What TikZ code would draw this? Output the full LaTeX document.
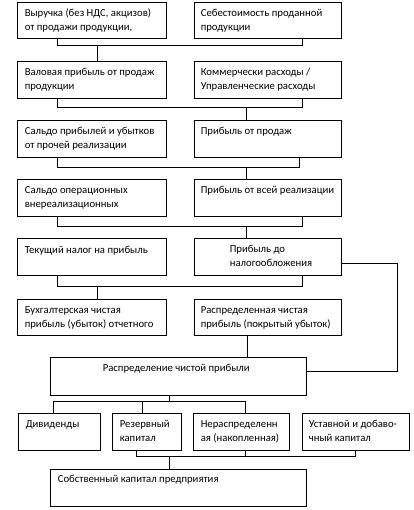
\documentclass[tikz,border=0pt]{standalone}
\usepackage{fontspec}
\setmainfont{Carlito}
\usetikzlibrary{fit}
\tikzset{
  box/.style={draw=black, line width=0.8pt, inner sep=0pt, fill=white},
  txt/.style={anchor=north west, inner sep=0pt, align=left, font=\fontsize{10.7}{14.3}\selectfont},
  conn/.style={draw=black, line width=0.8pt}
}
\begin{document}
\begin{tikzpicture}[x=1pt,y=-1pt]
\useasboundingbox (0,0) rectangle (413,510);
% boxes
\node[box, fit={(17,2) (166,38)}] (r1l) {};
\node[box, fit={(194,2) (341,38)}] (r1r) {};
\node[box, fit={(17,61) (166,98)}] (r2l) {};
\node[box, fit={(194,61) (341,98)}] (r2r) {};
\node[box, fit={(17,120) (166,157)}] (r3l) {};
\node[box, fit={(194,120) (341,157)}] (r3r) {};
\node[box, fit={(17,179) (166,216)}] (r4l) {};
\node[box, fit={(194,179) (341,216)}] (r4r) {};
\node[box, fit={(17,238.5) (166,275.5)}] (r5l) {};
\node[box, fit={(194,238) (341,275)}] (r5r) {};
\node[box, fit={(17,299) (166,335)}] (r6l) {};
\node[box, fit={(194,299) (341,335)}] (r6r) {};
\node[box, fit={(50,357) (306,395)}] (r7) {};
\node[box, fit={(18,413) (100,450)}] (r8a) {};
\node[box, fit={(112,413) (181,450)}] (r8b) {};
\node[box, fit={(193,413) (289,450)}] (r8c) {};
\node[box, fit={(302,413) (409,450)}] (r8d) {};
\node[box, fit={(50,469) (306,506)}] (r9) {};
% texts
\node[txt] (t1l) at ([xshift=8pt,yshift=-4.8pt]r1l.north west) {\strut Выручка (без НДС, акцизов)\\от продажи продукции,};
\node[txt] (t1r) at ([xshift=7pt,yshift=-4.8pt]r1r.north west) {\strut Себестоимость проданной\\продукции};
\node[txt] (t2l) at ([xshift=8pt,yshift=-4.8pt]r2l.north west) {\strut Валовая прибыль от продаж\\продукции};
\node[txt] (t2r) at ([xshift=7pt,yshift=-4.8pt]r2r.north west) {\strut Коммерчески расходы /\\Управленческие расходы};
\node[txt] (t3l) at ([xshift=8pt,yshift=-4.8pt]r3l.north west) {\strut Сальдо прибылей и убытков\\от прочей реализации};
\node[txt] (t3r) at ([xshift=7pt,yshift=-4.8pt]r3r.north west) {\strut Прибыль от продаж};
\node[txt] (t4l) at ([xshift=8pt,yshift=-4.8pt]r4l.north west) {\strut Сальдо операционных\\внереализационных};
\node[txt] (t4r) at ([xshift=7pt,yshift=-4.8pt]r4r.north west) {\strut Прибыль от всей реализации};
\node[txt] (t5l) at ([xshift=8pt,yshift=-4.8pt]r5l.north west) {\strut Текущий налог на прибыль};
\node[txt] (t5r) at ([xshift=36pt,yshift=-4.8pt]r5r.north west) {\strut Прибыль до\\налогообложения};
\node[txt] (t6l) at ([xshift=8pt,yshift=-4.8pt]r6l.north west) {\strut Бухгалтерская чистая\\прибыль (убыток) отчетного};
\node[txt] (t6r) at ([xshift=7pt,yshift=-4.8pt]r6r.north west) {\strut Распределенная чистая\\прибыль (покрытый убыток)};
\node[txt] (t7) at ([xshift=53pt,yshift=-4.8pt]r7.north west) {\strut Распределение чистой прибыли};
\node[txt] (t8a) at ([xshift=8pt,yshift=-4.8pt]r8a.north west) {\strut Дивиденды};
\node[txt] (t8b) at ([xshift=8pt,yshift=-4.8pt]r8b.north west) {\strut Резервный\\капитал};
\node[txt] (t8c) at ([xshift=8pt,yshift=-4.8pt]r8c.north west) {\strut Нераспределенн\\ая (накопленная)};
\node[txt] (t8d) at ([xshift=7pt,yshift=-4.8pt]r8d.north west) {\strut Уставной и добаво-\\чный капитал};
\node[txt] (t9) at ([xshift=8pt,yshift=-3.8pt]r9.north west) {\strut Собственный капитал предприятия};
% connectors
\draw[conn] ([xshift=41pt]r1l.south west) -- ++(0,7) -| ([xshift=-39pt]r1r.south east);
\draw[conn] ([xshift=81pt]r2l.north west) -- ++(0,-16);
\draw[conn] ([xshift=41pt]r2l.south west) -- ++(0,9) -| ([xshift=-39pt]r2r.south east);
\draw[conn] ([xshift=53pt]r3r.north west) -- ++(0,-13);
\draw[conn] ([xshift=41pt]r3l.south west) -- ++(0,10) -| ([xshift=-42pt]r3r.south east);
\draw[conn] ([xshift=53pt]r4r.north west) -- ++(0,-12);
\draw[conn] ([xshift=41pt]r4l.south west) -- ++(0,10) -| ([xshift=-39pt]r4r.south east);
\draw[conn] ([xshift=53pt]r5r.north west) -- ++(0,-12);
\draw[conn] ([xshift=41pt]r5l.south west) -- ++(0,10.5) -| ([xshift=-39pt]r5r.south east);
\draw[conn] ([xshift=81pt]r6l.north west) -- ++(0,-13);
\draw[conn] ([xshift=54pt]r6r.south west) -- ([xshift=54pt]r6r.south west |- r7.north);
\draw[conn] ([yshift=-6.5pt]r5r.east) -- ++(56,0) |- ([yshift=5pt]r7.east);
\draw[conn] ([xshift=120pt]r7.south west) -- ++(0,7);
\draw[conn] ([xshift=36pt]r8a.north west) |- ([xshift=53pt,yshift=11pt]r8c.north west) -- ([xshift=53pt]r8c.north west);
\draw[conn] ([xshift=31pt]r8b.north west) -- ++(0,-11);
\draw[conn] ([xshift=25pt]r8b.south west) -- ++(0,6) -| ([xshift=54pt]r8d.south west);
\draw[conn] ([xshift=53pt]r8c.south west) -- ++(0,6);
\draw[conn] ([xshift=120pt]r9.north west) -- ++(0,-13);
\end{tikzpicture}
\end{document}
